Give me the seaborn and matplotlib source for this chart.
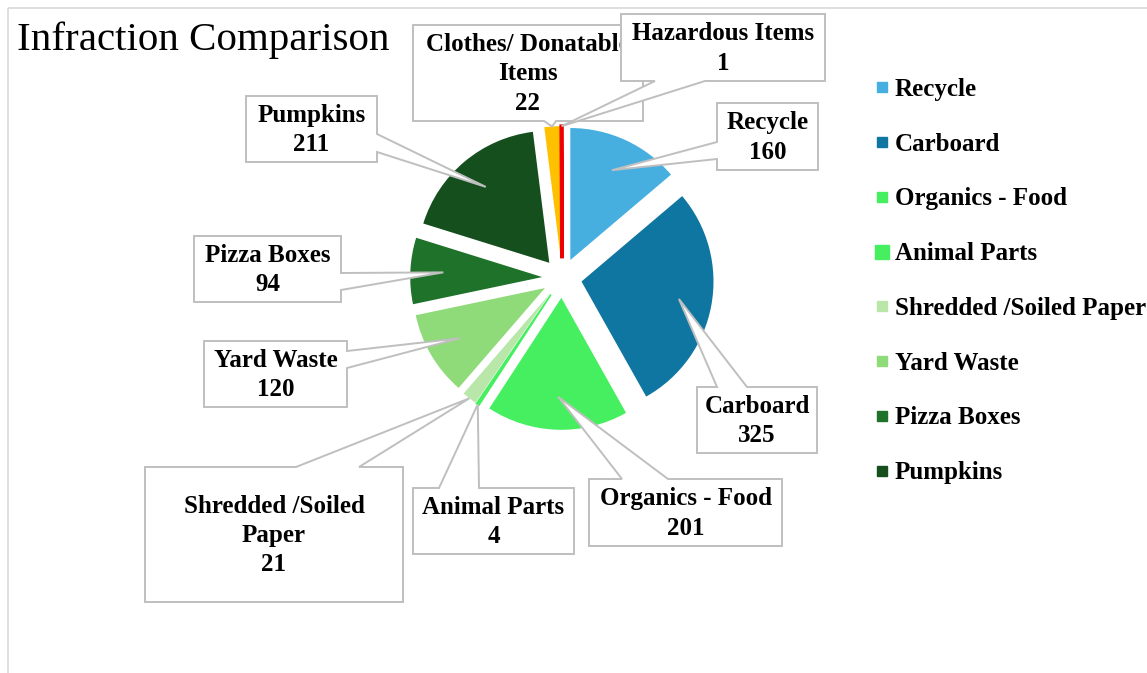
import matplotlib
matplotlib.use("Agg")
import matplotlib.pyplot as plt
from matplotlib.patches import Polygon, Rectangle
from matplotlib.lines import Line2D
import seaborn as sns
import numpy as np

# data (clockwise from 12 o'clock)
categories = ['Recycle', 'Carboard', 'Organics - Food', 'Animal Parts',
              'Shredded /Soiled Paper', 'Yard Waste', 'Pizza Boxes', 'Pumpkins',
              'Clothes/ Donatable Items', 'Hazardous Items']
counts = [160, 325, 201, 4, 21, 120, 94, 211, 22, 1]
label_names = ['Recycle', 'Carboard', 'Organics - Food', 'Animal Parts',
               'Shredded /Soiled\nPaper', 'Yard Waste', 'Pizza Boxes', 'Pumpkins',
               'Clothes/ Donatable\nItems', 'Hazardous Items']
colors = ['#47AFDF', '#0E76A0', '#46EF5F', '#46EF5F', '#B9E7AA', '#8FDA79',
          '#1F7229', '#164F1E', '#FFC000', '#EE0000']
legend_items = categories[:8]

sns.set_theme(style="white")
plt.rcParams['font.family'] = ['Liberation Serif', 'DejaVu Serif']
plt.rcParams['text.color'] = 'black'

W, H = 1147, 673
fig = plt.figure(figsize=(W / 100, H / 100), dpi=100)
ax = fig.add_axes([0, 0, 1, 1])

# pie in pixel coordinates (y axis inverted below)
cx, cy, rad = 562, 278, 132
wedges, _ = ax.pie(counts, colors=colors, startangle=270, counterclock=True,
                   explode=[0.15 * rad] * len(counts), center=(cx, cy), radius=rad,
                   wedgeprops=dict(linewidth=0))
total = sum(counts)
for i, w in enumerate(wedges):
    w.set_zorder(1)
    # very thin slices get an outline so they stay visible, like in Excel
    if counts[i] / total < 0.005:
        w.set_edgecolor(colors[i])
        w.set_linewidth(2.6 if counts[i] == 1 else 1.2)

ax.set_xlim(0, W)
ax.set_ylim(H, 0)
ax.set_aspect('equal')
ax.axis('off')

# chart border (only top and left are visible in the crop)
ax.add_patch(Rectangle((8, 8), 1300, 900, fill=False, edgecolor='#D9D9D9',
                       linewidth=1.2, zorder=0))

ax.text(17, 50, 'Infraction Comparison', fontsize=29.5, va='baseline',
        ha='left', color='black')

# callout boxes: (x0, y0, x1, y1), side of the pointer, pointer base positions
callouts = [
    ((717, 103, 818, 170), 'left', (142, 159)),
    ((697, 387, 817, 453), 'top', (717, 747)),
    ((589, 479, 782, 546), 'top', (622, 668)),
    ((413, 488, 574, 554), 'top', (439, 479)),
    ((145, 467, 403, 602), 'top', (296, 359)),
    ((204, 341, 347, 407), 'right', (351, 368)),
    ((194, 236, 341, 302), 'right', (273, 290)),
    ((246, 96, 377, 162), 'right', (134, 152)),
    ((413, 25, 643, 121), 'bottom', (544, 556)),
    ((621, 14, 825, 81), 'bottom', (655, 705)),
]

for i, (w, (box, side, (b1, b2))) in enumerate(zip(wedges, callouts)):
    x0, y0, x1, y1 = box
    mid = np.deg2rad((w.theta1 + w.theta2) / 2)
    f = 1.0 if counts[i] / total < 0.03 else 0.75
    wx, wy = w.center
    tip = (wx + f * w.r * np.cos(mid), wy + f * w.r * np.sin(mid))
    if side == 'left':
        pts = [(x0, y0), (x1, y0), (x1, y1), (x0, y1), (x0, b2), tip, (x0, b1)]
    elif side == 'right':
        pts = [(x0, y0), (x1, y0), (x1, b1), tip, (x1, b2), (x1, y1), (x0, y1)]
    elif side == 'top':
        pts = [(x0, y0), (b1, y0), tip, (b2, y0), (x1, y0), (x1, y1), (x0, y1)]
    else:
        pts = [(x0, y0), (x1, y0), (x1, y1), (b2, y1), tip, (b1, y1), (x0, y1)]
    ax.add_patch(Polygon(pts, closed=True, facecolor='white', edgecolor='#BFBFBF',
                         linewidth=1.4, zorder=3 + 2 * i, joinstyle='miter'))
    ax.text((x0 + x1) / 2, (y0 + y1) / 2 + 1, f'{label_names[i]}\n{counts[i]}',
            ha='center', va='center', multialignment='center', fontsize=18,
            fontweight='bold', linespacing=1.35, color='black', zorder=4 + 2 * i)

# legend
handles = []
for i, name in enumerate(legend_items):
    ms = 9.5 if name == 'Animal Parts' else 6.5
    handles.append(Line2D([], [], marker='s', linestyle='', markersize=ms,
                          color=colors[i]))
ax.legend(handles, legend_items, loc='upper left',
          bbox_to_anchor=(876 / W, 1 - 78 / H), frameon=False,
          prop=dict(size=18, weight='bold'), labelspacing=1.27,
          handlelength=0.5, handletextpad=0.26, borderpad=0, borderaxespad=0,
          labelcolor='black')

fig.savefig('out.png', dpi=100)
